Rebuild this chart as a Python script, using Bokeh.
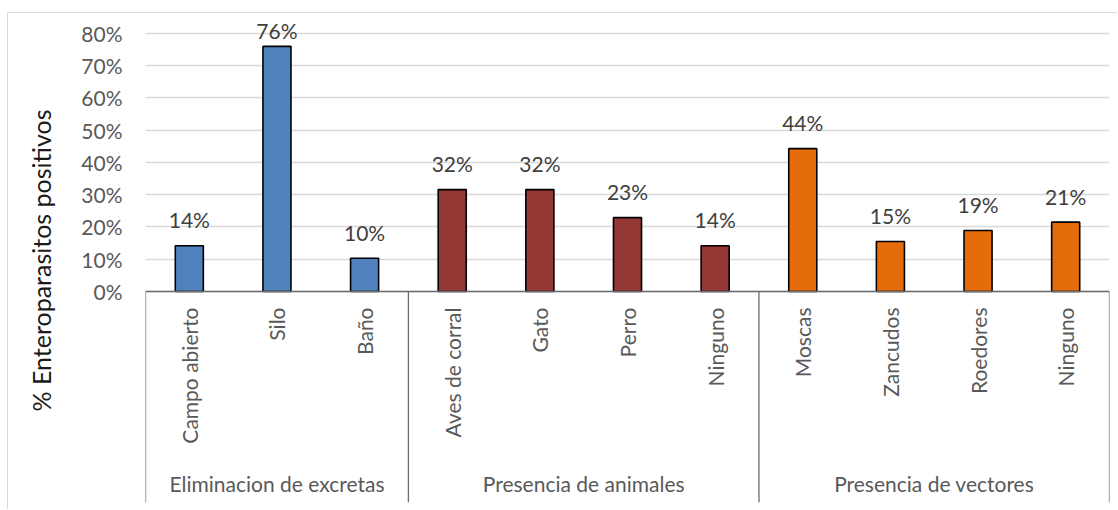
import numpy as np
from bokeh.plotting import figure
from bokeh.models import Range1d, FixedTicker, NumeralTickFormatter, ColumnDataSource
from bokeh.core.properties import value
from bokeh.embed import file_html
from bokeh.resources import INLINE

categories = ["Campo abierto", "Silo", "Baño", "Aves de corral", "Gato", "Perro",
              "Ninguno", "Moscas", "Zancudos", "Roedores", "Ninguno"]
groups = ["Eliminacion de excretas", "Presencia de animales", "Presencia de vectores"]
group_sizes = [3, 4, 4]
values = [0.142, 0.760, 0.103, 0.316, 0.316, 0.229, 0.142, 0.443, 0.155, 0.189, 0.215]
labels = ["14%", "76%", "10%", "32%", "32%", "23%", "14%", "44%", "15%", "19%", "21%"]
group_colors = ["#4f81bd", "#953735", "#e46c0a"]
y_ticks = [0.0, 0.1, 0.2, 0.3, 0.4, 0.5, 0.6, 0.7, 0.8]

FONT = "Lato"
FS = "21px"
PX = 322.5  # pixels per unit of y

n = len(categories)
xs = np.arange(n) + 0.5
colors = []
for c, s in zip(group_colors, group_sizes):
    colors += [c] * s
bounds = np.concatenate([[0], np.cumsum(group_sizes)])
gcent = (bounds[:-1] + bounds[1:]) / 2

y_top = 0.8465
y_bot = -0.6543

p = figure(width=1110, height=497, x_range=Range1d(0, n), y_range=Range1d(y_bot, y_top),
           output_backend="svg", toolbar_location=None, x_axis_location=None,
           min_border_left=137, min_border_right=9, min_border_top=5, min_border_bottom=8,
           outline_line_color=None)
p.styles = {"margin-left": "7px", "margin-top": "12px",
            "border-left": "1px solid #d9d9d9", "border-top": "1px solid #d9d9d9"}

ax = p.yaxis[0]
ax.ticker = FixedTicker(ticks=y_ticks)
ax.formatter = NumeralTickFormatter(format="0%")
ax.axis_line_color = None
ax.major_tick_line_color = None
ax.minor_tick_line_color = None
ax.major_tick_out = 0
ax.major_label_standoff = 23
ax.major_label_text_font = FONT
ax.major_label_text_font_size = FS
ax.major_label_text_color = "#595959"
ax.axis_label = "% Enteroparasitos positivos"
ax.axis_label_text_font = FONT
ax.axis_label_text_font_size = "25px"
ax.axis_label_text_font_style = "normal"
ax.axis_label_text_color = "#1a1a1a"
ax.axis_label_standoff = 22

p.xgrid.visible = False
p.ygrid.grid_line_color = "#d9d9d9"
p.ygrid.grid_line_width = 1.3

src = ColumnDataSource(dict(x=xs, top=values, color=colors, lab=labels,
                            ly=np.minimum(np.array(values) + 26 / PX, (291 - 30) / PX),
                            cat=categories))

p.vbar(x="x", top="top", bottom=0, width=0.32, fill_color="color",
       line_color="black", line_width=1.6, source=src)

p.text(x="x", y="ly", text="lab", source=src, text_align="center",
       text_baseline="alphabetic", text_font=value(FONT), text_font_size=FS,
       text_color="#404040")

# axis line and group separators
p.segment(x0=[0], y0=[0], x1=[n], y1=[0], line_color="#6b6b6b", line_width=1.3)
p.segment(x0=bounds, y0=[0] * len(bounds), x1=bounds, y1=[y_bot] * len(bounds),
          line_color="#6b6b6b", line_width=1.3)

# category labels (rotated)
p.text(x="x", y=-16 / PX, text="cat", source=src, angle=np.pi / 2,
       text_align="right", text_baseline="middle", text_font=value(FONT),
       text_font_size=FS, text_color="#595959")

# group labels
p.text(x=gcent, y=[-192 / PX] * len(groups), text=groups, text_align="center",
       text_baseline="middle", text_font=value(FONT), text_font_size=FS,
       text_color="#595959")

open("out.html", "w").write(file_html(p, INLINE))
